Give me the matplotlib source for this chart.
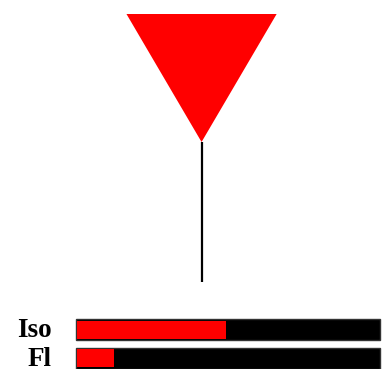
import matplotlib
matplotlib.use("Agg")
import matplotlib.pyplot as plt
from matplotlib.patches import Polygon

# Data
labels = ["Iso", "Fl"]
values = [0.49, 0.12]          # fraction filled (red) of each bar
pointer_value = 0.413          # position of the pointer on the same 0..1 scale

W, H = 390, 369
fig = plt.figure(figsize=(W / 100, H / 100), dpi=100)
ax = fig.add_axes([0, 0, 1, 1])
x0, x1 = 76, 380
scale = x1 - x0
ax.set_xlim(-x0 / scale, (W - x0) / scale)
ax.set_ylim(H, 0)
ax.axis("off")

# pointer
tri_half = 0.247
tri_top, tri_apex, stem_end = 14, 142, 282
ax.add_patch(Polygon([[pointer_value - tri_half, tri_top],
                      [pointer_value + tri_half, tri_top],
                      [pointer_value, tri_apex]],
                     closed=True, facecolor="#ff0000", edgecolor="none", zorder=3))
ax.vlines(pointer_value, tri_apex, stem_end, color="black", linewidth=1.6, zorder=2)

# bars
ys = [329.5, 358]
bh = 21
for lab, v, y in zip(labels, values, ys):
    ax.barh(y, 1.0, height=bh, left=0, color="black", edgecolor="#333333", linewidth=1)
    ax.barh(y, v, height=bh - 3, left=0.004, color="#ff0000", edgecolor="none")
    ax.text(-0.079, y + 1, lab, ha="right", va="center", fontsize=19.5,
            fontweight="bold", family=["Liberation Serif", "DejaVu Serif"])

fig.savefig("out.png", dpi=100)
